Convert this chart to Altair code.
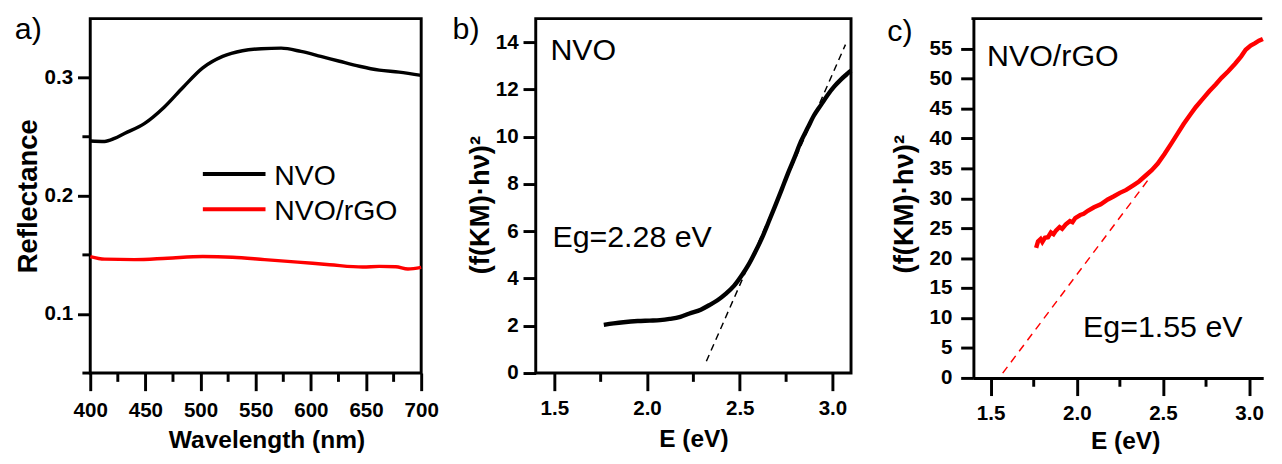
import altair as alt
import pandas as pd

FONT = "Liberation Sans"

# ---------------- panel a : reflectance ----------------
wl_nvo = [400, 413, 422, 431, 449, 467, 484, 502, 520, 538, 555, 573, 591, 609, 626, 644, 662, 680, 700]
refl_nvo = [0.2464, 0.2460, 0.2486, 0.2528, 0.2611, 0.2750, 0.2917, 0.3083, 0.3180, 0.3228,
            0.3245, 0.3250, 0.3222, 0.3180, 0.3139, 0.3097, 0.3064, 0.3047, 0.3019]
wl_rgo = [400, 413, 440, 470, 502, 529, 558, 588, 617, 647, 662, 677, 688, 700]
refl_rgo = [0.1486, 0.1464, 0.1460, 0.1472, 0.1486, 0.1480, 0.1460, 0.1439, 0.1417, 0.1397,
            0.1403, 0.1400, 0.1381, 0.1394]

# ---------------- panel b : NVO Tauc ----------------
e_nvo = [1.767, 1.82, 1.873, 1.95, 2.015, 2.07, 2.122, 2.18, 2.229, 2.29, 2.335, 2.38, 2.424,
         2.47, 2.513, 2.55, 2.584, 2.62, 2.655, 2.69, 2.726, 2.76, 2.797, 2.83, 2.868, 2.90,
         2.939, 2.975, 3.010, 3.045, 3.082, 3.10]
km_nvo = [2.04, 2.10, 2.15, 2.20, 2.22, 2.24, 2.29, 2.38, 2.52, 2.68, 2.87, 3.08, 3.35,
          3.70, 4.16, 4.62, 5.13, 5.72, 6.38, 7.05, 7.76, 8.45, 9.15, 9.80, 10.4, 10.9,
          11.36, 11.78, 12.13, 12.42, 12.68, 12.80]
fit_b_e = [2.32, 3.07]
fit_b_y = [0.5, 13.9]

# ---------------- panel c : NVO/rGO Tauc ----------------
e_rgo = [1.764, 1.775, 1.79, 1.80, 1.815, 1.833, 1.85, 1.865, 1.879, 1.90, 1.915, 1.935, 1.96,
         1.975, 1.991, 2.02, 2.04, 2.064, 2.10, 2.139, 2.18, 2.213, 2.25, 2.287, 2.33, 2.361,
         2.40, 2.435, 2.47, 2.509, 2.55, 2.583, 2.62, 2.657, 2.69, 2.731, 2.77, 2.806, 2.84,
         2.879, 2.92, 2.954, 2.98, 3.009, 3.035, 3.057, 3.08]
km_rgo = [21.7, 22.8, 23.2, 22.7, 23.4, 23.5, 24.3, 24.0, 24.6, 25.2, 24.9, 25.6, 26.2,
          26.0, 26.7, 27.2, 27.4, 27.9, 28.5, 29.0, 29.8, 30.3, 30.9, 31.4, 32.2, 32.8,
          33.8, 34.7, 35.8, 37.4, 39.2, 40.7, 42.4, 43.9, 45.2, 46.6, 47.9, 49.0, 50.1,
          51.2, 52.5, 53.7, 54.8, 55.5, 55.9, 56.3, 56.6]
fit_c_e = [1.57, 2.42]
fit_c_y = [0.8, 33.3]

# ---------------- ticks / labels ----------------
a_x_major = [400, 450, 500, 550, 600, 650, 700]
a_x_minor = [425, 475, 525, 575, 625, 675]
a_y_major = [0.1, 0.2, 0.3]
a_y_minor = [0.05, 0.15, 0.25]
e_major = [1.5, 2.0, 2.5, 3.0]
e_minor = [1.75, 2.25, 2.75]
b_y_major = [0, 2, 4, 6, 8, 10, 12, 14]
c_y_major = [0, 5, 10, 15, 20, 25, 30, 35, 40, 45, 50, 55]
names = ["NVO", "NVO/rGO"]
colors = ["#000000", "#ff0000"]
panel_tags = ["a)", "b)", "c)"]
eg_texts = ["Eg=2.28 eV", "Eg=1.55 eV"]
ytitle = "(f(KM)·hν)²"

W_A, H_A = 338, 362
W_B, H_B = 322, 362
W_C, H_C = 296, 367

lab = dict(labelFont=FONT, labelFontSize=21, labelFontWeight="bold", labelColor="black",
           titleFont=FONT, titleFontWeight="bold", titleColor="black",
           grid=False, tickColor="black", tickWidth=3,
           labelFlush=False, labelOverlap=False)


def xaxis(values, fmt, pad, title, tx, ty, domain=False):
    return alt.Axis(values=values, format=fmt, tickSize=18, labelPadding=pad, title=title,
                    titleX=tx, titleY=ty, titleBaseline="top", titleAlign="center", titleAngle=0,
                    titleFontSize=25, domain=domain, domainColor="black", domainWidth=3, **lab)


def yaxis(values, fmt, pad, title, tx, ty, domain=False):
    return alt.Axis(values=values, format=fmt, tickSize=13, labelPadding=pad, title=title,
                    titleX=tx, titleY=ty, titleBaseline="top", titleAlign="center", titleAngle=270,
                    titleFontSize=28, domain=domain, domainColor="black", domainWidth=3, **lab)


def text_layer(txt, x, y, size, align="left", baseline="top", color="black", weight="normal"):
    return alt.Chart(pd.DataFrame({"t": [txt]})).mark_text(
        align=align, baseline=baseline, fontSize=size, font=FONT, color=color, fontWeight=weight
    ).encode(x=alt.value(x), y=alt.value(y), text="t:N")


def marker(x):
    return alt.Chart(pd.DataFrame({"t": [0]})).mark_rule(strokeOpacity=0, strokeWidth=1).encode(
        x=alt.value(x), x2=alt.value(x), y=alt.value(0), y2=alt.value(1))


def minor_x(vals, xenc, h):
    return alt.Chart(pd.DataFrame({"x": vals})).mark_rule(color="black", strokeWidth=3).encode(
        x=xenc, y=alt.value(h), y2=alt.value(h + 9))


def minor_y(vals, yenc):
    return alt.Chart(pd.DataFrame({"y": vals})).mark_rule(color="black", strokeWidth=3).encode(
        y=yenc, x=alt.value(-8), x2=alt.value(0))


# ---------- panel a ----------
df_a = pd.concat([
    pd.DataFrame({"x": wl_nvo, "y": refl_nvo, "s": names[0]}),
    pd.DataFrame({"x": wl_rgo, "y": refl_rgo, "s": names[1]}),
])
xa = alt.X("x:Q", scale=alt.Scale(domain=[400, 700], nice=False, zero=False),
           axis=xaxis(a_x_major, "d", 9, "Wavelength (nm)", 180, 56))
ya = alt.Y("y:Q", scale=alt.Scale(domain=[0.05, 0.35], nice=False, zero=False),
           axis=yaxis(a_y_major, ".1f", 5, "Reflectance", -77, 181))
lines_a = alt.Chart(df_a).mark_line(strokeWidth=3.5, interpolate="monotone").encode(
    x=xa, y=ya,
    color=alt.Color("s:N", scale=alt.Scale(domain=names, range=colors), legend=None),
)
leg_y = [158.7, 194.7]
leg_layers = []
for i in range(2):
    leg_layers.append(
        alt.Chart(pd.DataFrame({"s": [names[i]]})).mark_rule(strokeWidth=4, color=colors[i]).encode(
            x=alt.value(115), x2=alt.value(179), y=alt.value(leg_y[i]), y2=alt.value(leg_y[i]))
    )
    leg_layers.append(text_layer(names[i], 188, leg_y[i] + 2, 29, baseline="middle"))

panel_a = alt.layer(
    lines_a, minor_x(a_x_minor, xa, H_A), minor_y(a_y_minor, ya), *leg_layers,
    text_layer(panel_tags[0], -77, -3, 31), marker(366)
).properties(width=W_A, height=H_A)

# ---------- panel b ----------
xb = alt.X("x:Q", scale=alt.Scale(domain=[1.4, 3.1], nice=False, zero=False),
           axis=xaxis(e_major, ".1f", 7, "E (eV)", 161, 55))
yb = alt.Y("y:Q", scale=alt.Scale(domain=[0, 15], nice=False),
           axis=yaxis(b_y_major, "d", 5, ytitle, -70, 190))
curve_b = alt.Chart(pd.DataFrame({"x": e_nvo, "y": km_nvo})).mark_line(
    color="black", strokeWidth=4.5, interpolate="monotone").encode(x=xb, y=yb)
fit_b = alt.Chart(pd.DataFrame({"x": fit_b_e, "y": fit_b_y})).mark_line(
    color="black", strokeWidth=1.5, strokeDash=[7, 5]).encode(x=xb, y=yb)
panel_b = alt.layer(
    curve_b, fit_b, minor_x(e_minor, xb, H_B),
    text_layer(names[0], 15, 18, 31), text_layer(eg_texts[0], 17, 209, 31),
    text_layer(panel_tags[1], -85, -3, 31), marker(355)
).properties(width=W_B, height=H_B)

# ---------- panel c (right edge cut off, as in the figure) ----------
xc = alt.X("x:Q", scale=alt.Scale(domain=[1.4, 3.082], nice=False, zero=False),
           axis=xaxis(e_major, ".1f", 7, "E (eV)", 155, 52, domain=True))
yc = alt.Y("y:Q", scale=alt.Scale(domain=[0, 60], nice=False),
           axis=yaxis(c_y_major, "d", 9, ytitle, -84, 189, domain=True))
curve_c = alt.Chart(pd.DataFrame({"x": e_rgo, "y": km_rgo})).mark_line(
    color="#ff0000", strokeWidth=4.5).encode(x=xc, y=yc)
fit_c = alt.Chart(pd.DataFrame({"x": fit_c_e, "y": fit_c_y})).mark_line(
    color="#ff0000", strokeWidth=1.5, strokeDash=[8, 6]).encode(x=xc, y=yc)
top_c = alt.Chart(pd.DataFrame({"t": [0]})).mark_rule(color="black", strokeWidth=3).encode(
    x=alt.value(-2), x2=alt.value(W_C - 1), y=alt.value(0), y2=alt.value(0))
panel_c = alt.layer(
    curve_c, fit_c, minor_x(e_minor, xc, H_C), top_c,
    text_layer(names[1], 14, 24, 31), text_layer(eg_texts[1], 112, 301, 31),
    text_layer(panel_tags[2], -88, -1.5, 31)
).properties(width=W_C, height=H_C, view=alt.ViewBackground(stroke="transparent"))

chart = alt.hconcat(
    panel_a, panel_b, panel_c, spacing=0,
    padding={"left": 5, "top": 0, "right": 0, "bottom": 0},
).configure(
    font=FONT, background="white",
    view=alt.ViewConfig(stroke="black", strokeWidth=3),
)

chart.save("out.html", embed_options={"renderer": "svg", "actions": False})
